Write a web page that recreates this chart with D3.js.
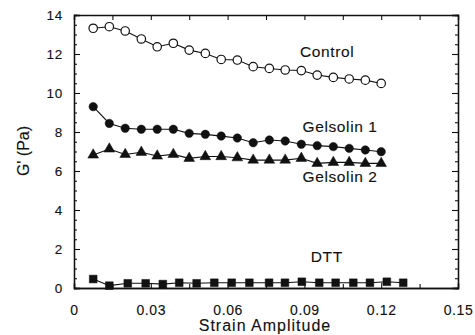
<!DOCTYPE html>
<html>
<head>
<meta charset="utf-8">
<script src="https://cdn.jsdelivr.net/npm/d3@7"></script>
<style>
  body { margin: 0; background: #fff; }
  text { font-family: "Liberation Sans", Arial, sans-serif; fill: #111; stroke: #111; stroke-width: 0.12px; }
</style>
</head>
<body>
<div id="chart"></div>
<script>
// strain amplitudes (control + gelsolin runs share these)
var strain = [0.0075, 0.0138, 0.02, 0.0263, 0.0325, 0.0388, 0.045, 0.0513, 0.0575, 0.0638,
              0.07, 0.0763, 0.0825, 0.0888, 0.095, 0.1013, 0.1075, 0.1138, 0.12];
// DTT run was measured a bit further out
var strainDTT = [0.0075, 0.0138, 0.021, 0.028, 0.0347, 0.0411, 0.0479, 0.0548, 0.0616, 0.0685,
                 0.0762, 0.0824, 0.089, 0.0958, 0.1022, 0.1091, 0.1156, 0.1222, 0.1286];

// G' values (Pa)
var control = [13.32, 13.4, 13.18, 12.77, 12.37, 12.55, 12.2, 12.03, 11.72, 11.69,
               11.35, 11.26, 11.18, 11.15, 10.92, 10.8, 10.72, 10.66, 10.49];
var gelsolin1 = [9.3, 8.44, 8.19, 8.14, 8.14, 8.14, 7.93, 7.88, 7.79, 7.69,
                 7.45, 7.59, 7.54, 7.37, 7.3, 7.25, 7.16, 7.08, 6.99];
var gelsolin2 = [6.82, 7.13, 6.85, 6.96, 6.77, 6.85, 6.65, 6.74, 6.74, 6.68,
                 6.56, 6.56, 6.56, 6.65, 6.39, 6.44, 6.44, 6.39, 6.39];
var dtt = [0.46, 0.12, 0.24, 0.24, 0.2, 0.27, 0.24, 0.27, 0.27, 0.27,
           0.27, 0.27, 0.32, 0.27, 0.27, 0.27, 0.27, 0.32, 0.27];

// tick values
var xTicks = [0, 0.03, 0.06, 0.09, 0.12, 0.15];
var xMinorTicks = [0.015, 0.045, 0.075, 0.105, 0.135];
var yTicks = [0, 2, 4, 6, 8, 10, 12, 14];
var yMinorTicks = d3.range(0.5, 14, 0.5).filter(function (d) { return d % 2 !== 0; });

// series labels
var seriesNames = ["Control", "Gelsolin 1", "Gelsolin 2", "DTT"];

// set the dimensions and margins of the graph
var margin = { top: 15, right: 17, bottom: 47, left: 74 },
    width = 475 - margin.left - margin.right,
    height = 335 - margin.top - margin.bottom;

var svg = d3.select("#chart")
    .append("svg")
    .attr("width", 475)
    .attr("height", 335)
    .append("g")
    .attr("transform", "translate(" + margin.left + "," + margin.top + ")");

var x = d3.scaleLinear().domain([0, 0.15]).range([0, width]);
var y = d3.scaleLinear().domain([0, 14]).range([height, 0]);

var fmtX = function (d) { return d === 0 ? "0" : d3.format(".2f")(d); };

// axes - all ticks point inward
var bottomAxis = svg.append("g")
    .attr("transform", "translate(0," + height + ")")
    .call(d3.axisBottom(x).tickValues(xTicks).tickFormat(fmtX).tickSize(-5).tickPadding(17));
bottomAxis.selectAll("text").style("font-size", "14px").style("letter-spacing", "0.6px");

svg.append("g")
    .attr("transform", "translate(0," + height + ")")
    .call(d3.axisBottom(x).tickValues(xMinorTicks).tickFormat("").tickSize(-4));

svg.append("g")
    .call(d3.axisTop(x).tickValues(xTicks.concat(xMinorTicks)).tickFormat("").tickSize(-5));

var leftAxis = svg.append("g")
    .call(d3.axisLeft(y).tickValues(yTicks).tickSize(-6).tickPadding(11));
leftAxis.selectAll("text").style("font-size", "13.5px").style("letter-spacing", "0.8px");

svg.append("g")
    .call(d3.axisLeft(y).tickValues(yMinorTicks).tickFormat("").tickSize(-3));

svg.append("g")
    .attr("transform", "translate(" + width + ",0)")
    .call(d3.axisRight(y).tickValues(yTicks).tickFormat("").tickSize(-6));

svg.append("g")
    .attr("transform", "translate(" + width + ",0)")
    .call(d3.axisRight(y).tickValues(yMinorTicks).tickFormat("").tickSize(-3));

svg.selectAll(".domain").attr("stroke", "#111").attr("stroke-width", 1.3);
svg.selectAll(".tick line").attr("stroke", "#111").attr("stroke-width", 1.1);

// build the series
var series = [
    { name: seriesNames[0], xs: strain, ys: control, shape: "open" },
    { name: seriesNames[1], xs: strain, ys: gelsolin1, shape: "circle" },
    { name: seriesNames[2], xs: strain, ys: gelsolin2, shape: "triangle" },
    { name: seriesNames[3], xs: strainDTT, ys: dtt, shape: "square" }
];

var line = d3.line()
    .x(function (d) { return x(d[0]); })
    .y(function (d) { return y(d[1]); });

series.forEach(function (s) {
    var pts = s.xs.map(function (v, i) { return [v, s.ys[i]]; });

    svg.append("path")
        .datum(pts)
        .attr("fill", "none")
        .attr("stroke", "#111")
        .attr("stroke-width", 1.1)
        .attr("d", line);

    var sym;
    if (s.shape === "triangle") sym = d3.symbol().type(d3.symbolTriangle).size(50);
    else if (s.shape === "square") sym = d3.symbol().type(d3.symbolSquare).size(60);
    else sym = d3.symbol().type(d3.symbolCircle).size(56);

    svg.selectAll(null)
        .data(pts)
        .enter()
        .append("path")
        .attr("d", sym)
        .attr("transform", function (d) { return "translate(" + x(d[0]) + "," + y(d[1]) + ")"; })
        .attr("fill", s.shape === "open" ? "#fff" : "#111")
        .attr("stroke", "#111")
        .attr("stroke-width", s.shape === "open" ? 1.2 : 0.5);
});

// series labels
var labelPos = [[0.0883, 11.85], [0.0893, 8.0], [0.0893, 5.44], [0.0925, 1.33]];
svg.selectAll(".series-label")
    .data(seriesNames)
    .enter()
    .append("text")
    .attr("class", "series-label")
    .attr("x", function (d, i) { return x(labelPos[i][0]); })
    .attr("y", function (d, i) { return y(labelPos[i][1]); })
    .style("font-size", "15.5px")
    .style("letter-spacing", "0.6px")
    .text(function (d) { return d; });

// axis titles
svg.append("text")
    .attr("x", 265 - margin.left)
    .attr("y", height + 43)
    .attr("text-anchor", "middle")
    .style("font-size", "16px")
    .style("letter-spacing", "1px")
    .text("Strain Amplitude");

svg.append("text")
    .attr("transform", "translate(" + (29 - margin.left) + "," + (151 - margin.top) + ") rotate(-90)")
    .attr("text-anchor", "middle")
    .style("font-size", "16px")
    .text("G' (Pa)");
</script>
</body>
</html>
